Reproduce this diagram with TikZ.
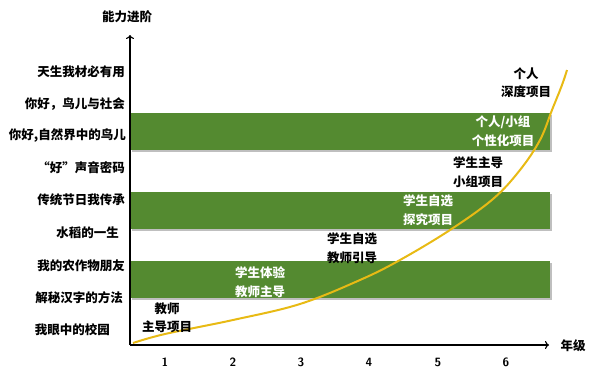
\documentclass[tikz,border=0pt]{standalone}
\usepackage{fontspec}
\newfontfamily\cjk{Noto Sans CJK SC}
\usetikzlibrary{arrows.meta}
\definecolor{bandgreen}{RGB}{84,138,48}
\definecolor{curveyellow}{RGB}{232,186,20}
\begin{document}
\begin{tikzpicture}[x=1pt,y=-1pt,
  ylab/.style={anchor=east,font=\cjk\bfseries\fontsize{12.5}{12.5}\selectfont,inner sep=0pt},
  tick/.style={font=\sffamily\bfseries\fontsize{12}{12}\selectfont,inner sep=0pt},
  lbl/.style={font=\cjk\bfseries\fontsize{12.5}{18.5}\selectfont,align=center,inner sep=0pt},
  band/.style={fill=bandgreen,draw=none},
  axis/.style={line width=1.1pt,-{To[length=4pt,width=8pt]}}]
\useasboundingbox (0,0) rectangle (600,386);
% bands
\foreach \ya/\yb in {113/150,192/229,261/298}{
  \fill[black!25] (132,\ya+2) rectangle (552,\yb+2);
  \fill[band] (130,\ya) rectangle (550,\yb);
}
% axes
\coordinate (o) at (130,345);
\coordinate (ytop) at (130,35);
\coordinate (xend) at (549,345);
\draw[axis] (o) -- (ytop);
\draw[axis] (o) -- (xend);
\node[font=\cjk\bfseries\fontsize{12.5}{12.5}\selectfont] (ytitle) at (127,17) {能力进阶};
\node[font=\cjk\bfseries\fontsize{12.5}{12.5}\selectfont] (xtitle) at (573,346) {年级};
% y labels
\node[ylab] (l1) at (125,72) {天生我材必有用};
\node[ylab] (l2) at (125,104) {你好，鸟儿与社会};
\node[ylab] (l3) at (126,136) {你好,自然界中的鸟儿};
\node[ylab] (l4) at (125,168) {“好”声音密码};
\node[ylab] (l5) at (125,200) {传统节日我传承};
\node[ylab] (l6) at (119,233) {水稻的一生};
\node[ylab] (l7) at (125,266) {我的农作物朋友};
\node[ylab] (l8) at (123,298) {解秘汉字的方法};
\node[ylab] (l9) at (110,330) {我眼中的校园};
% x ticks
\foreach \i/\x in {1/165,2/233,3/301,4/369,5/438,6/506}{
  \node[tick] (t\i) at (\x,362) {\i};
}
% curve
\draw[curveyellow,line width=2pt] plot[smooth,tension=0.6] coordinates
 {(133,343) (165,334) (233,320) (300,304) (360,280) (400,260) (450,230) (493,199) (520,170) (540,140) (552,110) (562,85) (567,70)};
% stage labels
\node[lbl] (s1) at (167,318) {教师\\主导项目};
\node[lbl,white] (s2) at (260,282) {学生体验\\教师主导};
\node[lbl] (s3) at (352,248) {学生自选\\教师引导};
\node[lbl,white] (s4) at (428,210) {学生自选\\探究项目};
\node[lbl] (s5) at (478,172) {学生主导\\小组项目};
\node[lbl,white] (s6) at (503,131) {个人/小组\\个性化项目};
\node[lbl] (s7) at (526,83) {个人\\深度项目};
\end{tikzpicture}
\end{document}
